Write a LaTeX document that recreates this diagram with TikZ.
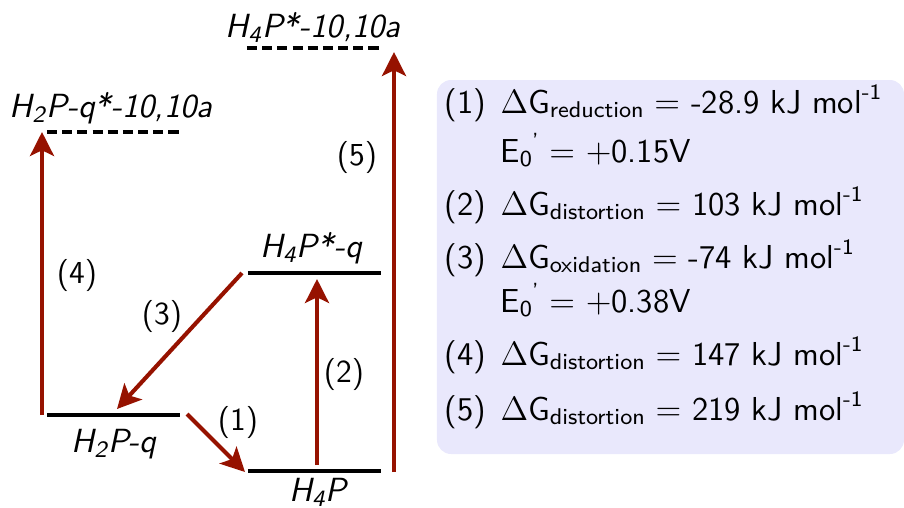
\documentclass[tikz,border=0pt]{standalone}
\usepackage{tikz}
\usetikzlibrary{arrows.meta, positioning}
\renewcommand{\familydefault}{\sfdefault}
\definecolor{arrowred}{RGB}{150,18,0}
\definecolor{boxlilac}{RGB}{233,232,252}
\newcommand{\lsub}[1]{\raisebox{-1.6pt}{\fontsize{8.1}{8}\selectfont #1}}
\newcommand{\lsup}[1]{\raisebox{4.8pt}{\fontsize{7.8}{8}\selectfont #1}}

\begin{document}
\begin{tikzpicture}[
    x=0.0125cm, y=-0.0125cm,
    level/.style={line width=1.1pt, black},
    excited/.style={level, line width=1.4pt, dash pattern=on 3.6pt off 1.8pt},
    trans/.style={-{Stealth[length=8.5pt, width=8.5pt, inset=2pt]}, line width=1.45pt, color=arrowred},
    statelbl/.style={font=\fontsize{11.9}{14}\selectfont\itshape, inner sep=0pt, anchor=base},
    steplbl/.style={font=\fontsize{11.4}{14}\selectfont, inner sep=0pt},
    infotxt/.style={font=\fontsize{11.8}{14}\selectfont, anchor=base west, inner sep=0pt}
]
\useasboundingbox (0,0) rectangle (904,507);

% energy levels
\coordinate (h4px-l) at (247,48);   \coordinate (h4px-r) at (381,48);
\coordinate (h2pqx-l) at (47,132);  \coordinate (h2pqx-r) at (180,132);
\coordinate (h4pq-l) at (248,273);  \coordinate (h4pq-r) at (381,273);
\coordinate (h2pq-l) at (47,415);   \coordinate (h2pq-r) at (180,415);
\coordinate (h4p-l) at (248,471);   \coordinate (h4p-r) at (381,471);
\draw[excited] (h4px-l) -- (h4px-r);
\draw[excited] (h2pqx-l) -- (h2pqx-r);
\draw[level] (h4pq-l) -- (h4pq-r);
\draw[level] (h2pq-l) -- (h2pq-r);
\draw[level] (h4p-l) -- (h4p-r);

\node[statelbl] (h4px) at (313,37) {H\textsubscript{4}P*-10,10a};
\node[statelbl] (h2pqx) at (111,117) {H\textsubscript{2}P-q*-10,10a};
\node[statelbl] (h4pq) at (311,257) {H\textsubscript{4}P*-q};
\node[statelbl] (h2pq) at (114,452) {H\textsubscript{2}P-q};
\node[statelbl] (h4p) at (318,501) {H\textsubscript{4}P};

% transitions
\coordinate (s1) at (187,414);  \coordinate (t1) at (245,472);
\coordinate (s2) at (317,465);  \coordinate (t2) at (317,279);
\coordinate (s3) at (242,273);  \coordinate (t3) at (117,409);
\coordinate (s4) at (42,415);   \coordinate (t4) at (42,132);
\coordinate (s5) at (394,472);  \coordinate (t5) at (394,52);
\draw[trans] (s1) -- (t1);
\draw[trans] (s2) -- (t2);
\draw[trans] (s3) -- (t3);
\draw[trans] (s4) -- (t4);
\draw[trans] (s5) -- (t5);

\node[steplbl] (n1) at (238,422) {(1)};
\node[steplbl] (n2) at (344,374) {(2)};
\node[steplbl] (n3) at (162,316) {(3)};
\node[steplbl] (n4) at (77,275) {(4)};
\node[steplbl] (n5) at (357,157) {(5)};

% free energies
\fill[boxlilac, rounded corners=5pt] (437,80) rectangle (904,454);
\node[infotxt] (e1) at (444,113) {(1)};
\node[infotxt] (g1) at (500,113) {$\Delta$G\lsub{reduction} $=$ -28.9 kJ mol\lsup{-1}};
\node[infotxt] (v1) at (500,162) {E\lsub{0}\lsup{'} $=$ $+$0.15V};
\node[infotxt] (e2) at (444,215) {(2)};
\node[infotxt] (g2) at (500,215) {$\Delta$G\lsub{distortion} $=$ 103 kJ mol\lsup{-1}};
\node[infotxt] (e3) at (444,268) {(3)};
\node[infotxt] (g3) at (500,268) {$\Delta$G\lsub{oxidation} $=$ -74 kJ mol\lsup{-1}};
\node[infotxt] (v3) at (500,312) {E\lsub{0}\lsup{'} $=$ $+$0.38V};
\node[infotxt] (e4) at (444,365) {(4)};
\node[infotxt] (g4) at (500,365) {$\Delta$G\lsub{distortion} $=$ 147 kJ mol\lsup{-1}};
\node[infotxt] (e5) at (444,420) {(5)};
\node[infotxt] (g5) at (500,420) {$\Delta$G\lsub{distortion} $=$ 219 kJ mol\lsup{-1}};
\end{tikzpicture}
\end{document}
